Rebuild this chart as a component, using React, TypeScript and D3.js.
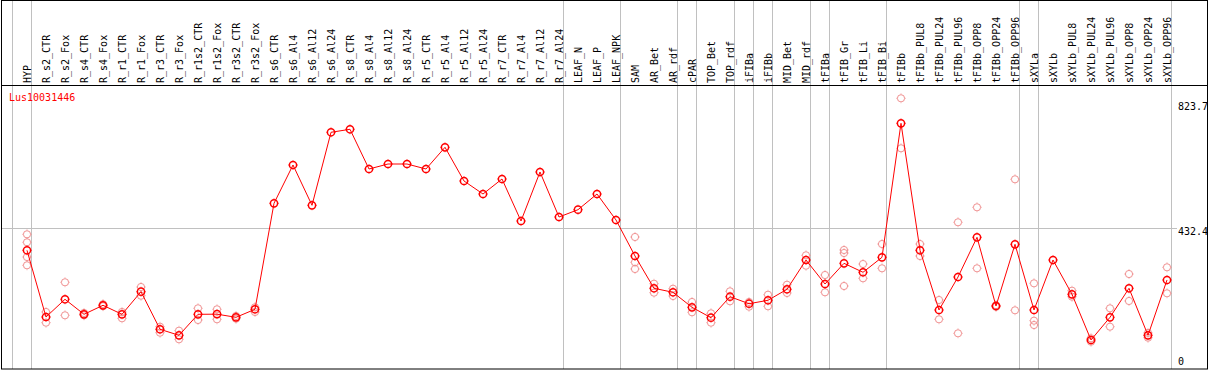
import * as d3 from 'd3';
import React from 'react';

// sample names (x categories)
const samples = [
  'HYP', 'R_s2_CTR', 'R_s2_Fox', 'R_s4_CTR', 'R_s4_Fox', 'R_r1_CTR', 'R_r1_Fox', 'R_r3_CTR', 'R_r3_Fox',
  'R_r1s2_CTR', 'R_r1s2_Fox', 'R_r3s2_CTR', 'R_r3s2_Fox', 'R_s6_CTR', 'R_s6_Al4', 'R_s6_Al12', 'R_s6_Al24',
  'R_s8_CTR', 'R_s8_Al4', 'R_s8_Al12', 'R_s8_Al24', 'R_r5_CTR', 'R_r5_Al4', 'R_r5_Al12', 'R_r5_Al24',
  'R_r7_CTR', 'R_r7_Al4', 'R_r7_Al12', 'R_r7_Al24', 'LEAF_N', 'LEAF_P', 'LEAF_NPK', 'SAM', 'AR_Bet', 'AR_rdf',
  'cPAR', 'TOP_Bet', 'TOP_rdf', 'iFIBa', 'iFIBb', 'MID_Bet', 'MID_rdf', 'tFIBa', 'tFIB_Gr', 'tFIB_Li', 'tFIB_Bi',
  'tFIBb', 'tFIBb_PUL8', 'tFIBb_PUL24', 'tFIBb_PUL96', 'tFIBb_OPP8', 'tFIBb_OPP24', 'tFIBb_OPP96',
  'sXYLa', 'sXYLb', 'sXYLb_PUL8', 'sXYLb_PUL24', 'sXYLb_PUL96', 'sXYLb_OPP8', 'sXYLb_OPP24', 'sXYLb_OPP96',
];

// mean expression per sample
const means = [
  365.3, 164.5, 217.8, 172.6, 199.7, 172.6, 240.7, 127.5, 109.4,
  172.6, 173.0, 163.6, 187.7, 506.7, 622.0, 500.7, 720.5,
  729.5, 610.0, 625.0, 625.0, 610.0, 675.3, 573.9, 534.7,
  579.9, 453.5, 601.0, 465.5, 487.5, 534.7, 456.5, 348.1, 250.9, 238.9,
  193.7, 162.4, 225.6, 204.5, 214.8, 247.9, 336.1, 263.8, 326.1, 299.1, 344.2,
  747.5, 365.3, 185.6, 284.9, 404.4, 197.6, 383.3,
  185.6, 336.1, 232.8, 95.3, 163.6, 250.9, 109.4, 275.9,
];

// individual replicates (empty where only the mean is shown)
const replicates: number[][] = [
  [413.4, 389.4, 345.1, 320.1], [179.6, 147.4], [269.0, 169.6], [176.6, 169.6], [203.0, 197.0],
  [179.6, 160.6], [254.8, 228.6], [135.3, 117.3], [123.3, 97.4],
  [190.7, 155.5], [187.7, 157.6], [167.5, 159.4], [193.7, 179.6], [], [], [], [],
  [], [], [], [], [], [], [], [],
  [], [], [], [], [], [], [], [405.3, 329.2, 309.0], [264.7, 237.7], [249.7, 227.7],
  [209.7, 178.7], [175.6, 147.4], [241.9, 211.8], [209.7, 195.5], [231.6, 196.7], [261.7, 236.8],
  [350.2, 318.9], [290.9, 238.9], [366.2, 357.1, 257.8], [324.0, 281.0], [384.2, 311.1],
  [822.8, 672.3], [384.2, 348.1], [215.7, 157.6], [449.6, 115.4], [494.7, 311.1], [200.0, 195.0], [579.0, 184.7],
  [265.9, 153.4, 140.4], [], [243.7, 225.6], [100.4, 90.2], [190.7, 135.3], [293.9, 212.7], [102.2, 116.6], [314.1, 235.8],
];

// last sample of each tissue group (grey separators drawn after them)
const groupEnds = [
  'HYP', 'R_r7_Al24', 'LEAF_NPK', 'AR_rdf', 'cPAR', 'TOP_rdf', 'iFIBa', 'iFIBb',
  'MID_rdf', 'tFIBa', 'tFIB_Bi', 'tFIBb_OPP96', 'sXYLa', 'sXYLb_OPP96',
];

const geneId = 'Lus10031446';
const yDomain = [41.1, 823.7];
const yTickValues = [823.7, 432.4, 41.1];
const yTickLabels = ['823.7', '432.4', '0'];

const W = 1209;
const H = 370;
const FONT = '"DejaVu Sans Mono", monospace';

// circle marker with tiny nubs, like the original bitmap glyph
const Marker = ({ x, y, color, sw }: { x: number; y: number; color: string; sw: number }) => (
  <g transform={`translate(${x},${y})`} stroke={color} fill="none" strokeWidth={sw}>
    <circle r={3.6} />
    <path d="M0,-4.9V-4.2M0,4.2V4.9M-4.9,0H-4.2M4.2,0H4.9" strokeWidth={0.8} />
  </g>
);

const App = () => {
  const x = d3.scalePoint<string>(samples, [27, 1167]);
  const step = x.step();
  const y = d3.scaleLinear(yDomain, [358, 98]);

  const line = d3.line<number>((d, i) => x(samples[i])!, (d) => y(d));

  const sepX = [x(samples[0])! - step + 4, ...groupEnds.map((g) => x(g)! + 4)];

  return (
    <svg width={W} height={H} style={{ position: 'absolute', left: 0, top: 0, background: '#fff' }}>
      <rect x={0} y={0} width={W} height={H} fill="#fff" />
      {/* group separators */}
      <g stroke="#c0c0c0" strokeWidth={1}>
        {sepX.map((sx, i) => (
          <line key={i} x1={Math.round(sx) + 0.5} x2={Math.round(sx) + 0.5} y1={0} y2={369} />
        ))}
        <line x1={1} x2={1177} y1={Math.round(y(432.4)) + 0.5} y2={Math.round(y(432.4)) + 0.5} />
      </g>

      {/* sample labels */}
      <g fontFamily={FONT} fontSize={10} fill="#000">
        {samples.map((s) => (
          <text key={s} transform={`translate(${x(s)},83) rotate(-90)`} dy="0.36em">
            {s}
          </text>
        ))}
      </g>

      <text x={9} y={101} fontFamily={FONT} fontSize={10} fill="#ff0000">
        {geneId}
      </text>

      {/* y labels */}
      <g fontFamily={FONT} fontSize={10} fill="#000">
        {yTickValues.map((v, i) => (
          <text key={i} x={1178} y={Math.max(y(v), 103)} dominantBaseline="hanging">
            {yTickLabels[i]}
          </text>
        ))}
      </g>

      {/* replicates */}
      {replicates.map((reps, i) =>
        reps.map((r, j) => <Marker key={`${i}-${j}`} x={x(samples[i])!} y={y(r)} color="#f09090" sw={1} />)
      )}

      <path d={line(means)!} fill="none" stroke="#ff0000" strokeWidth={1} />

      {means.map((m, i) => (
        <Marker key={i} x={x(samples[i])!} y={y(m)} color="#ff0000" sw={1.5} />
      ))}

      {/* frame */}
      <rect x={1.5} y={0.5} width={1206} height={368.5} fill="none" stroke="#000" strokeWidth={1} />
      <line x1={1} x2={1208} y1={85.5} y2={85.5} stroke="#000" strokeWidth={1} />
    </svg>
  );
};

export default App;
